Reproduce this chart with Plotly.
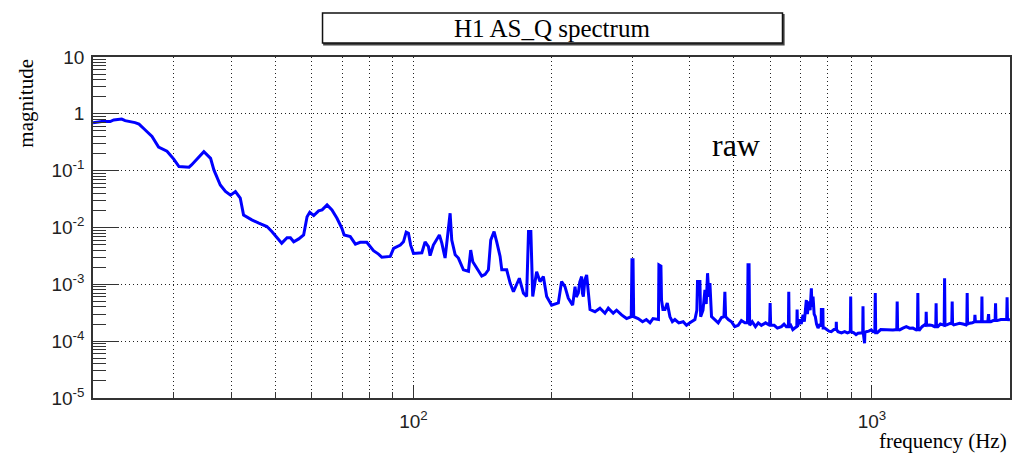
import numpy as np
import plotly.graph_objects as go

# Amplitude spectrum of the H1 AS_Q channel (raw), frequency in Hz
freq_low = [20.0, 20.9, 21.8, 22.2, 23.1, 23.5, 24.7, 25.2, 26.0, 26.9, 27.8, 29.0, 30.0,
            30.8, 32.4, 32.8, 34.9, 36.1, 36.7, 37.9, 38.9, 39.9, 40.9, 41.9, 42.6, 44.4,
            46.0, 47.9, 49.1, 50.4, 51.6, 53.0, 53.9, 54.8, 56.2, 57.6, 58.6, 59.4, 60.6,
            62.1, 63.2, 64.8, 66.4, 68.1, 69.8, 70.6, 72.8, 74.7, 76.5, 79.1, 80.5, 81.8,
            83.9, 85.3, 89.0, 90.5, 93.6, 95.1, 96.4, 97.5, 98.6]
mag_low = [0.70, 0.73, 0.73, 0.78, 0.81, 0.76, 0.70, 0.66, 0.52, 0.40, 0.26, 0.22, 0.16,
           0.118, 0.115, 0.126, 0.216, 0.165, 0.103, 0.056, 0.043, 0.037, 0.043, 0.033,
           0.0166, 0.0136, 0.0119, 0.0104, 0.0085, 0.0065, 0.0053, 0.0066, 0.0066, 0.0056,
           0.0063, 0.0074, 0.0155, 0.0185, 0.0162, 0.0196, 0.0204, 0.0249, 0.0204, 0.0145,
           0.0097, 0.0074, 0.0069, 0.0051, 0.0055, 0.0055, 0.0046, 0.0039, 0.0034, 0.0030,
           0.0031, 0.0043, 0.0049, 0.0056, 0.0083, 0.0079, 0.0049]

freq_mid = [100.0, 104.3, 106.0, 107.8, 108.7, 110.5, 112.4, 113.9, 115.3, 117.2, 118.2,
            120.2, 121.2, 123.3, 125.3, 128.5, 131.8, 133.3, 134.7, 138.6, 140.9, 143.3,
            145.7, 147.4, 149.9, 151.9, 154.5, 155.8, 159.7, 162.5, 165.2, 170.2, 173.7,
            176.5, 178.2, 180.3, 182.0, 185.6, 188.8, 192.0, 195.2, 200.1, 207.0, 210.4,
            214.0, 217.6, 222.4, 225.1, 226.5, 228.8, 230.5, 232.7, 233.6, 234.7, 236.5,
            238.6, 240.0, 241.5, 242.7, 248.8, 255.1, 261.6, 266.0, 272.7, 277.3, 284.4,
            291.6, 298.5]
mag_mid = [0.0035, 0.0036, 0.0056, 0.0046, 0.0032, 0.0049, 0.0060, 0.0074, 0.0053, 0.0029,
           0.0053, 0.0178, 0.0060, 0.0033, 0.0029, 0.0018, 0.0017, 0.0040, 0.0025, 0.0017,
           0.0014, 0.0015, 0.0018, 0.0060, 0.0085, 0.0056, 0.0031, 0.0018, 0.0018, 0.00105,
           0.00074, 0.00128, 0.00070, 0.00061, 0.0085, 0.0085, 0.00061, 0.00167, 0.00112,
           0.00137, 0.00061, 0.00043, 0.00047, 0.00112, 0.00091, 0.00057, 0.00043, 0.00091,
           0.00060, 0.00070, 0.00110, 0.00137, 0.00070, 0.00061, 0.00120, 0.00146, 0.00090,
           0.00053, 0.00036, 0.00033, 0.00038, 0.00031, 0.00038, 0.00031, 0.00035, 0.00029,
           0.00025, 0.00027]

freq_high = [299.6, 301.2, 302.2, 309, 316, 322, 328, 333, 340, 342.2, 343.0, 346.5, 347.5,
             350, 353.6, 357.7, 362.5, 367, 371.7, 379, 387.5, 394, 400.8, 411, 415, 416.4,
             421.4, 423, 428, 432.2, 435, 437.9, 441, 443.1, 446.7, 454.4, 462, 469.7,
             475.5, 477.7, 479.5, 486, 493.8, 502, 510.7, 519, 528.2, 535.2, 536.6, 539.4,
             541, 548, 557, 565, 573.9, 586, 598, 599.6, 601.2, 612, 622, 634.5, 643, 650.5,
             657.3, 658.4, 659.8, 665.1, 672, 678.5, 685.5, 686.6, 688, 695.7, 701, 707.4,
             712, 719.2, 723, 727.9, 733, 737.5, 740, 743.8, 748, 752.4, 757, 762.7, 770,
             774.5, 775.5, 781.5, 782.5, 788.6, 797, 806, 815.2, 826, 835.2, 836, 837,
             843.1, 858, 871.9, 884, 897, 898.6, 900.2, 913, 923, 932.2, 945, 954.5, 955.9,
             957.2, 963.5, 965, 971.8, 984, 996.5, 1005, 1014.5, 1016.7, 1018.8, 1026.8,
             1045, 1065.8, 1088, 1111, 1132.5, 1135, 1137.5, 1149, 1168, 1188, 1208, 1228,
             1249, 1256.5, 1259, 1261.5, 1270, 1286, 1302, 1311, 1313, 1315.5, 1336, 1352,
             1369, 1377.5, 1380, 1382.5, 1392, 1410, 1428, 1437, 1440, 1443, 1456, 1470,
             1484, 1493, 1496, 1499, 1508, 1530, 1552, 1580, 1605, 1610, 1613, 1616, 1633,
             1655, 1674, 1677, 1681, 1702, 1720, 1734, 1737, 1740, 1754, 1772, 1789, 1796,
             1800, 1816, 1838, 1856, 1860, 1864, 1875, 1910, 1946, 1967, 1971, 1975, 2000]
mag_high = [0.0027, 0.0027, 0.00027, 0.00025, 0.00022, 0.00024, 0.00021, 0.00025, 0.00024,
            0.00024, 0.0022, 0.0021, 0.00053, 0.00036, 0.00036, 0.00047, 0.00027, 0.00022,
            0.00024, 0.00021, 0.00022, 0.00019, 0.00021, 0.00024, 0.00035, 0.00112, 0.00112,
            0.00027, 0.00035, 0.0008, 0.00045, 0.00157, 0.0006, 0.00105, 0.00027, 0.00024,
            0.00021, 0.00026, 0.00027, 0.00074, 0.00027, 0.00024, 0.00022, 0.00018, 0.00019,
            0.00023, 0.00021, 0.00021, 0.0022, 0.0022, 0.00019, 0.00022, 0.00018, 0.00021,
            0.00019, 0.00021, 0.00019, 0.00047, 0.00019, 0.00019, 0.00017, 0.00018, 0.00020,
            0.00018, 0.00018, 0.00074, 0.00018, 0.00019, 0.00016, 0.00017, 0.00018, 0.00036,
            0.00018, 0.00024, 0.00020, 0.00029, 0.00022, 0.00053, 0.0003, 0.0005, 0.00035,
            0.00085, 0.0004, 0.00061, 0.0003, 0.00027, 0.0002, 0.00017, 0.00020, 0.00018,
            0.00036, 0.00036, 0.00017, 0.00017, 0.00016, 0.00015, 0.000147, 0.00016, 0.00016,
            0.00022, 0.00016, 0.000147, 0.00014, 0.000147, 0.00014, 0.000147, 0.00061,
            0.000147, 0.00014, 0.00013, 0.000138, 0.00014, 0.00014, 0.00041, 0.00014,
            0.000092, 0.00014, 0.000147, 0.00015, 0.000158, 0.000147, 0.000147, 0.0007,
            0.000141, 0.000141, 0.00016, 0.000158, 0.00016, 0.000158, 0.00016, 0.0005,
            0.00016, 0.000158, 0.00017, 0.00018, 0.000169, 0.00017, 0.000158, 0.00016,
            0.0007, 0.00016, 0.000158, 0.00018, 0.000193, 0.00019, 0.00033, 0.00019,
            0.000193, 0.00019, 0.00018, 0.00018, 0.000465, 0.00018, 0.00018, 0.0002,
            0.000193, 0.00019, 0.00128, 0.00019, 0.000193, 0.0002, 0.000207, 0.0002, 0.0005,
            0.0002, 0.000193, 0.0002, 0.000207, 0.0002, 0.000193, 0.0002, 0.0007, 0.0002,
            0.000207, 0.00021, 0.00022, 0.00029, 0.00022, 0.00022, 0.00022, 0.00022,
            0.00061, 0.00022, 0.00022, 0.00022, 0.00022, 0.0003, 0.00022, 0.00022, 0.00023,
            0.00023, 0.000465, 0.00023, 0.00023, 0.00024, 0.000237, 0.00024, 0.00059,
            0.00024, 0.000237]

freq = freq_low + freq_mid + freq_high
mag = mag_low + mag_mid + mag_high

# axis ticks
x_major = [100, 1000]
x_major_text = ["10<sup>2</sup>", "10<sup>3</sup>"]
x_minor = [30, 40, 50, 60, 70, 80, 90, 200, 300, 400, 500, 600, 700, 800, 900]
y_exponents = [-5, -4, -3, -2, -1, 0, 1]
y_major = [10.0 ** e for e in y_exponents]
y_major_text = ["10<sup>-5</sup>", "10<sup>-4</sup>", "10<sup>-3</sup>", "10<sup>-2</sup>",
                "10<sup>-1</sup>", "1", "10"]
y_minor = [k * 10.0 ** e for e in y_exponents[:-1] for k in range(2, 10)]

SERIF = "Liberation Serif, Times New Roman, serif"
SANS = "Liberation Sans, Arial, sans-serif"
FRAME = "#333333"
GRID = "#222222"

fig = go.Figure()
fig.add_trace(go.Scatter(x=freq, y=mag, mode="lines",
                         line=dict(color="#0000ff", width=3),
                         showlegend=False, hoverinfo="x+y"))

fig.update_xaxes(
    type="log", range=[np.log10(20), np.log10(2000)],
    showline=True, linecolor=FRAME, linewidth=1.5, mirror=True,
    ticks="inside", tickvals=x_major, ticktext=x_major_text,
    ticklen=12, tickwidth=1.3, tickcolor=FRAME,
    tickfont=dict(family=SANS, size=19, color="#222"), ticklabelstandoff=5,
    showgrid=True, gridcolor=GRID, gridwidth=1, griddash="1px,3px",
    minor=dict(tickvals=x_minor, ticks="inside", ticklen=6, tickwidth=1.3,
               tickcolor=FRAME, showgrid=True, gridcolor=GRID, gridwidth=1,
               griddash="1px,3px"),
    zeroline=False,
)
fig.update_yaxes(
    type="log", range=[-5, 1],
    showline=True, linecolor=FRAME, linewidth=1.5, mirror=True,
    ticks="inside", tickvals=y_major, ticktext=y_major_text,
    ticklen=26, tickwidth=1.3, tickcolor=FRAME,
    tickfont=dict(family=SANS, size=19, color="#222"), ticklabelstandoff=3,
    showgrid=True, gridcolor=GRID, gridwidth=1, griddash="1px,3px",
    minor=dict(tickvals=y_minor, ticks="inside", ticklen=13, tickwidth=1.3,
               tickcolor=FRAME, showgrid=False),
    zeroline=False,
)

# title box with a slight drop shadow
fig.add_shape(type="rect", xref="paper", yref="paper",
              x0=0.2518, x1=0.7534, y0=1.036, y1=1.124,
              line=dict(color="#444", width=1.5), fillcolor="#444", layer="above")
fig.add_shape(type="rect", xref="paper", yref="paper",
              x0=0.2503, x1=0.7519, y0=1.041, y1=1.129,
              line=dict(color="#111", width=1.5), fillcolor="white", layer="above")

fig.add_annotation(text="H1 AS_Q spectrum", xref="paper", yref="paper",
                   x=0.5005, y=1.085, xanchor="center", yanchor="middle",
                   showarrow=False, font=dict(family=SERIF, size=25, color="black"))
fig.add_annotation(text="raw", xref="paper", yref="paper",
                   x=0.7008, y=0.742, xanchor="center", yanchor="middle",
                   showarrow=False, font=dict(family=SERIF, size=32, color="black"))
fig.add_annotation(text="magnitude", xref="paper", yref="paper",
                   x=-0.074, y=1.0, xanchor="center", yanchor="top", textangle=-90,
                   showarrow=False, font=dict(family=SERIF, size=21, color="black"))
fig.add_annotation(text="frequency (Hz)", xref="paper", yref="paper",
                   x=0.9989, y=-0.126, xanchor="right", yanchor="middle",
                   showarrow=False, font=dict(family=SERIF, size=21, color="black"))

fig.update_layout(
    width=1014, height=455,
    margin=dict(l=93, r=2, t=57, b=57, pad=0),
    paper_bgcolor="white", plot_bgcolor="white",
)

fig.write_html("out.html")
